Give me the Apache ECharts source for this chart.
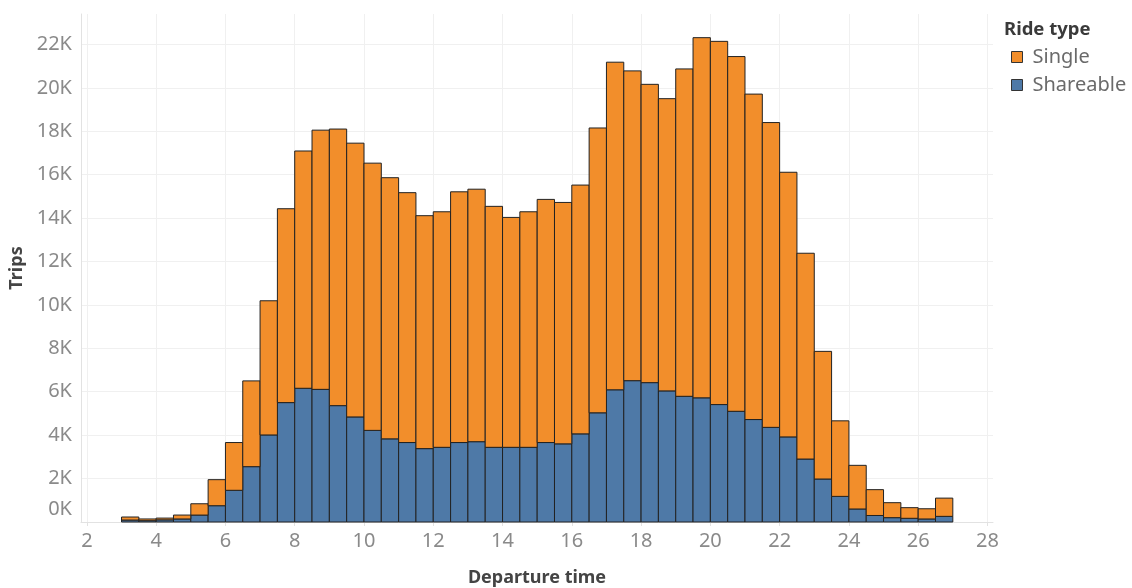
<!DOCTYPE html>
<html>
<head>
<meta charset="utf-8">
<script src="https://cdn.jsdelivr.net/npm/echarts@6/dist/echarts.min.js"></script>
<style>
html,body{margin:0;padding:0;background:#fff;}
#chart{width:1132px;height:588px;}
</style>
</head>
<body>
<div id="chart"></div>
<script>
// Half-hour bins (start of each bin, in hours of departure)
const binStarts = [3,3.5,4,4.5,5,5.5,6,6.5,7,7.5,8,8.5,9,9.5,10,10.5,11,11.5,12,12.5,13,13.5,14,14.5,15,15.5,16,16.5,17,17.5,18,18.5,19,19.5,20,20.5,21,21.5,22,22.5,23,23.5,24,24.5,25,25.5,26,26.5];
const binWidth = 0.5;
// Trips per bin
const shareable = [90,60,100,140,320,750,1460,2550,4010,5500,6160,6110,5360,4840,4220,3830,3660,3380,3440,3660,3700,3440,3440,3440,3660,3600,4060,5030,6090,6510,6420,6040,5790,5720,5410,5100,4720,4360,3920,2900,1980,1180,600,300,200,170,140,260];
const single = [140,80,80,180,520,1200,2200,3950,6180,8930,10930,11940,12740,12610,12310,12030,11510,10730,10850,11550,11630,11100,10590,10850,11200,11120,11460,13120,15090,14270,13740,13460,15080,16590,16730,16340,14990,14040,12190,9480,5880,3480,2010,1190,690,490,470,840];
const xTicks = [2,4,6,8,10,12,14,16,18,20,22,24,26,28];
const yTicks = [0,2000,4000,6000,8000,10000,12000,14000,16000,18000,20000,22000];
const seriesNames = ['Single','Shareable'];
const colors = {Single:'#F28E2B', Shareable:'#4E79A7'};

const FONT = "'Noto Sans', 'Open Sans', sans-serif";

function renderBin(color){
  return function(params, api){
    const x0 = api.value(0);
    const v = api.value(1);
    const base = api.value(2);
    const p0 = api.coord([x0, base]);
    const p1 = api.coord([x0 + binWidth, base + v]);
    return {
      type:'rect',
      shape:{x:p0[0], y:p1[1], width:p1[0]-p0[0], height:p0[1]-p1[1]},
      style:{fill:color, stroke:'#222222', lineWidth:1}
    };
  };
}

const shareData = binStarts.map((s,i)=>[s, shareable[i], 0]);
const singleData = binStarts.map((s,i)=>[s, single[i], shareable[i]]);

const chart = echarts.init(document.getElementById('chart'), null, {renderer:'canvas'});
chart.setOption({
  backgroundColor:'#fff',
  animation:false,
  textStyle:{fontFamily:FONT},
  title:{
    text:'Ride type', left:1004, top:20, padding:0,
    textStyle:{fontFamily:FONT, fontSize:18.5, fontWeight:'bold', color:'#3a3a3a'}
  },
  legend:{
    orient:'vertical', left:1011, top:47, padding:0,
    itemWidth:11, itemHeight:11, itemGap:8, icon:'rect',
    textStyle:{fontFamily:FONT, fontSize:20, color:'#6a6a6a', lineHeight:20, padding:[0,0,0,5]},
    data:[
      {name:'Single', itemStyle:{color:colors.Single, borderColor:'#333', borderWidth:1}},
      {name:'Shareable', itemStyle:{color:colors.Shareable, borderColor:'#333', borderWidth:1}}
    ]
  },
  grid:{left:81, right:139, top:14, bottom:66, containLabel:false, outerBoundsMode:'none'},
  xAxis:{
    type:'value', min:1.83, max:28.16,
    name:'Departure time', nameLocation:'middle', nameGap:47,
    nameTextStyle:{fontFamily:FONT, fontSize:18, fontWeight:'bold', color:'#444'},
    axisLine:{show:true, lineStyle:{color:'#e2e2e2', width:1}},
    axisTick:{show:true, customValues:xTicks, length:4, lineStyle:{color:'#e2e2e2'}},
    axisLabel:{customValues:xTicks, fontFamily:FONT, fontSize:20, color:'#8a8a8a', margin:9},
    splitLine:{show:true, lineStyle:{color:'#f0f0f0', width:1}}
  },
  yAxis:{
    type:'value', min:0, max:23400, interval:2000,
    name:'Trips', nameLocation:'middle', nameGap:53, nameRotate:90,
    nameTextStyle:{fontFamily:FONT, fontSize:18, fontWeight:'bold', color:'#444'},
    axisLine:{show:true, lineStyle:{color:'#e2e2e2', width:1}},
    axisTick:{show:false},
    axisLabel:{
      fontFamily:FONT, fontSize:20, color:'#8a8a8a', margin:9,
      formatter:function(v){
        if (v === 0) return '{z|0K}';
        if (yTicks.indexOf(v) >= 0) return (v/1000) + 'K';
        return '';
      },
      rich:{z:{fontFamily:FONT, fontSize:20, color:'#8a8a8a', padding:[0,0,26,0]}}
    },
    splitLine:{show:true, showMaxLine:false, lineStyle:{color:'#f0f0f0', width:1}}
  },
  series:[
    {name:'Shareable', type:'custom', renderItem:renderBin(colors.Shareable), data:shareData,
     encode:{x:0, y:1}, itemStyle:{color:colors.Shareable}, z:2},
    {name:'Single', type:'custom', renderItem:renderBin(colors.Single), data:singleData,
     encode:{x:0, y:1}, itemStyle:{color:colors.Single}, z:3}
  ]
});
</script>
</body>
</html>
